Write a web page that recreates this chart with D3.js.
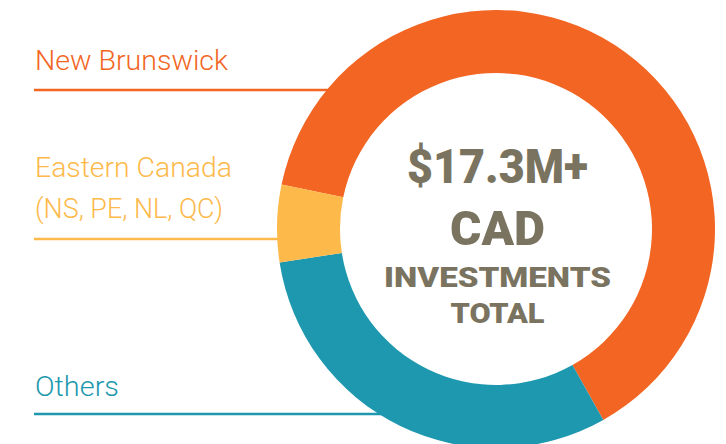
<!DOCTYPE html>
<html>
<head>
<meta charset="utf-8">
<script src="https://cdn.jsdelivr.net/npm/d3@7"></script>
<style>
  html, body { margin: 0; padding: 0; background: #fff; }
  svg { display: block; }
</style>
</head>
<body>
<div id="chart"></div>
<script>
// data (share of total investment, %)
const categories = ["New Brunswick", "Others", "Eastern Canada"];
const values = [63.6, 30.7, 5.7];
const colors = ["#f26522", "#1d98ae", "#fdb94a"];
const labelLines = {
    "New Brunswick": ["New Brunswick"],
    "Eastern Canada": ["Eastern Canada", "(NS, PE, NL, QC)"],
    "Others": ["Others"]
};
const centerLines = ["$17.3M+", "CAD", "INVESTMENTS", "TOTAL"];

const width = 726;
const height = 444;
const cx = 496, cy = 229;
const outerR = 219, innerR = 156;

const svg = d3.select("#chart")
    .append("svg")
    .attr("width", width)
    .attr("height", height);

const color = d3.scaleOrdinal().domain(categories).range(colors);

const data = categories.map((c, i) => ({ name: c, value: values[i] }));

// label layout: baseline of first text line, line spacing, widths, rule y
const labelLayout = {
    "New Brunswick": { y: 70, widths: [193], rule: 90 },
    "Eastern Canada": { y: 177, widths: [197, 188], rule: 239 },
    "Others": { y: 396, widths: [84], rule: 414 }
};

// leader rules, drawn first so the ring sits on top
Object.keys(labelLayout).forEach(name => {
    const l = labelLayout[name];
    const dy = l.rule - cy;
    const xEnd = cx - Math.sqrt(outerR * outerR - dy * dy) + 6;
    svg.append("line")
        .attr("x1", 34)
        .attr("x2", xEnd)
        .attr("y1", l.rule)
        .attr("y2", l.rule)
        .style("stroke", color(name))
        .style("stroke-width", 2.5);

    labelLines[name].forEach((t, i) => {
        svg.append("text")
            .attr("x", 35)
            .attr("y", l.y + i * 41)
            .attr("textLength", l.widths[i])
            .attr("lengthAdjust", "spacingAndGlyphs")
            .style("font-family", "Roboto, 'DejaVu Sans', sans-serif")
            .style("font-weight", 300)
            .style("font-size", "28px")
            .style("fill", color(name))
            .text(t);
    });
});

// donut
const pie = d3.pie()
    .sort(null)
    .value(d => d.value)
    .startAngle(-78.3 * Math.PI / 180)
    .endAngle((360 - 78.3) * Math.PI / 180);

const arc = d3.arc()
    .innerRadius(innerR)
    .outerRadius(outerR);

const g = svg.append("g")
    .attr("transform", `translate(${cx},${cy})`);

g.selectAll("path")
    .data(pie(data))
    .enter()
    .append("path")
    .attr("d", arc)
    .style("fill", d => color(d.data.name));

// centre text
const centerLayout = [
    { y: 183, size: 49, w: 181 },
    { y: 245, size: 49, w: 95 },
    { y: 287, size: 27.5, w: 227 },
    { y: 323, size: 28, w: 94 }
];

centerLines.forEach((t, i) => {
    const c = centerLayout[i];
    svg.append("text")
        .attr("x", 497.5)
        .attr("y", c.y)
        .attr("text-anchor", "middle")
        .attr("textLength", c.w)
        .attr("lengthAdjust", "spacingAndGlyphs")
        .style("font-family", "Roboto, 'DejaVu Sans', sans-serif")
        .style("font-weight", 900)
        .style("font-size", c.size + "px")
        .style("fill", "#79735f")
        .text(t);
});
</script>
</body>
</html>
